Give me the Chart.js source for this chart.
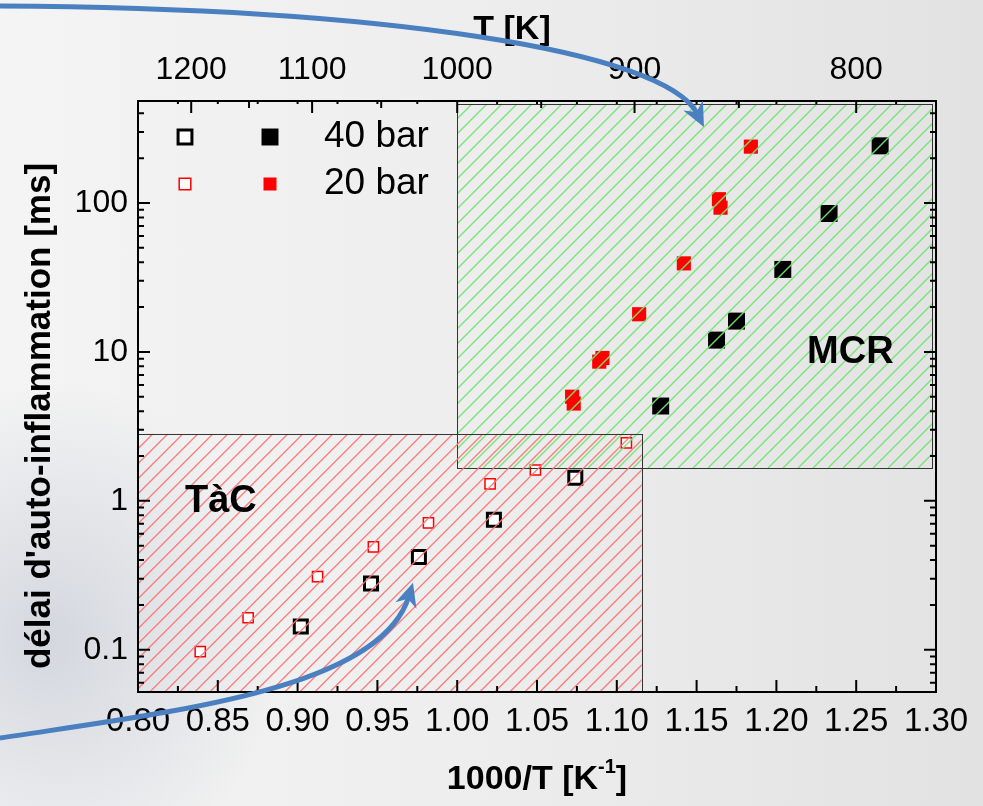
<!DOCTYPE html>
<html><head><meta charset="utf-8">
<script src="https://cdn.jsdelivr.net/npm/chart.js@4.4.1/dist/chart.umd.min.js"></script>
<style>
html,body{margin:0;padding:0;width:983px;height:806px;overflow:hidden;}
body{background:
 radial-gradient(ellipse 230px 260px at 50px 640px, rgba(185,192,205,0.55), rgba(185,192,205,0) 100%),
 linear-gradient(90deg,#f4f4f4 0%,#eeeeee 45%,#e2e2e2 100%);}
canvas{display:block}
</style></head><body>
<canvas id="c" width="983" height="806"></canvas>
<script>
// ---- data (x = 1000/T [1/K], y = ignition delay [ms]) ----
const xOpen40 = [0.902, 0.946, 0.976, 1.023, 1.074];
const yOpen40 = [0.143, 0.278, 0.42, 0.746, 1.43];
const xOpen20 = [0.839, 0.869, 0.9125, 0.9475, 0.982, 1.0206, 1.049, 1.106];
const yOpen20 = [0.097, 0.164, 0.31, 0.49, 0.71, 1.30, 1.61, 2.45];
const xFill40 = [1.1275, 1.1625, 1.175, 1.204, 1.233, 1.265];
const yFill40 = [4.33, 12.0, 16.1, 35.8, 85, 242];
const xFill20 = [1.072, 1.073, 1.089, 1.091, 1.114, 1.142, 1.164, 1.165, 1.184];
const yFill20 = [5.0, 4.5, 8.6, 9.1, 17.9, 39.3, 106, 93, 239];

// regions (axis units)
const tacX = [0.80, 1.1156], tacY = [0.052, 2.82];
const mcrX = [1.00, 1.2975], mcrY = [1.66, 463];
// region labels: [text, x, y(baseline)]
const tacLabel = ["TàC", 0.8294, 0.845];
const mcrLabel = ["MCR", 1.2192, 8.44];

// axis ticks / labels
const xMin = 0.80, xMax = 1.30, xStep = 0.05;
const yMin = 0.052, yMax = 484;
const yTickVals = [0.1, 1, 10, 100];
const yTickLabels = ["0.1", "1", "10", "100"];
const tempMajor = [1200, 1100, 1000, 900, 800];
const tempMinor = [1150, 1050, 950, 850];

// legend
const legendLabels = ["40 bar", "20 bar"];

// arrows (cubic Bezier control points in axis units)
const arrowTopX = [0.7135, 0.9516, 1.1302, 1.1546];
const arrowTopY = [2104, 2041, 1066, 324];
const arrowBotX = [0.7135, 0.82, 0.9516, 0.9723];
const arrowBotY = [0.0255, 0.0382, 0.0537, 0.282];

const FONT = "'Liberation Sans', Arial, Helvetica, sans-serif";
const pts = (xs, ys) => xs.map((x, i) => ({x, y: ys[i]}));

const extras = {
  id: 'extras',
  afterDatasetsDraw(chart) {
    const {ctx, chartArea: a, scales: {x, y}} = chart;
    const regions = [
      {xr: mcrX, yr: mcrY, hatch: 'rgba(115,228,115,0.95)'},
      {xr: tacX, yr: tacY, hatch: 'rgba(250,115,115,0.9)'}
    ];
    regions.forEach(r => {
      const x0 = x.getPixelForValue(r.xr[0]), x1 = x.getPixelForValue(r.xr[1]);
      const y0 = y.getPixelForValue(r.yr[1]), y1 = y.getPixelForValue(r.yr[0]);
      ctx.save();
      ctx.beginPath(); ctx.rect(x0, y0, x1 - x0, y1 - y0); ctx.clip();
      ctx.strokeStyle = r.hatch; ctx.lineWidth = 1.4;
      ctx.beginPath();
      for (let c = x0 + y0; c < x1 + y1; c += 15) {
        ctx.moveTo(c - y1, y1); ctx.lineTo(c - y0, y0);
      }
      ctx.stroke();
      ctx.restore();
      ctx.save();
      ctx.strokeStyle = '#333'; ctx.lineWidth = 1;
      ctx.strokeRect(Math.round(x0) + 0.5, Math.round(y0) + 0.5, Math.round(x1 - x0), Math.round(y1 - y0));
      ctx.restore();
    });
    // region labels
    ctx.save();
    ctx.fillStyle = '#000';
    ctx.font = "bold 38px " + FONT;
    ctx.textBaseline = 'alphabetic'; ctx.textAlign = 'left';
    [tacLabel, mcrLabel].forEach(l => ctx.fillText(l[0], x.getPixelForValue(l[1]), y.getPixelForValue(l[2])));
    ctx.restore();
  },
  afterDraw(chart) {
    const {ctx, chartArea: a, scales: {x, y, x2}} = chart;
    ctx.save();
    // frame
    ctx.strokeStyle = '#000'; ctx.lineWidth = 2;
    ctx.strokeRect(a.left, a.top, a.right - a.left, a.bottom - a.top);
    // ticks (inward)
    ctx.lineWidth = 2;
    ctx.beginPath();
    const nX = Math.round((xMax - xMin) / 0.025);
    for (let i = 0; i <= nX; i++) {
      const v = xMin + i * 0.025, px = x.getPixelForValue(v);
      const len = i % 2 === 0 ? 12 : 6;
      ctx.moveTo(px, a.bottom); ctx.lineTo(px, a.bottom - len);
      ctx.moveTo(px, a.top); ctx.lineTo(px, a.top + 3);
    }
    tempMajor.forEach(T => { const px = x2.getPixelForValue(1000 / T); ctx.moveTo(px, a.top); ctx.lineTo(px, a.top + 12); });
    tempMinor.forEach(T => { const px = x2.getPixelForValue(1000 / T); ctx.moveTo(px, a.top); ctx.lineTo(px, a.top + 7); });
    for (let d = -2; d <= 3; d++) {
      for (let m = 1; m <= 9; m++) {
        const v = m * Math.pow(10, d);
        if (v < yMin || v > yMax) continue;
        const py = y.getPixelForValue(v);
        const len = m === 1 ? 12 : 6;
        ctx.moveTo(a.left, py); ctx.lineTo(a.left + len, py);
        ctx.moveTo(a.right, py); ctx.lineTo(a.right - len, py);
      }
    }
    ctx.stroke();

    // legend
    const P = Chart.helpers.drawPoint;
    const lx1 = a.left + 47, lx2 = a.left + 132, lt = a.left + 186;
    const ly = [a.top + 36, a.top + 83];
    ctx.strokeStyle = '#000'; ctx.fillStyle = '#fff'; ctx.lineWidth = 3;
    P(ctx, {pointStyle: 'rect', radius: 9.8, borderWidth: 3}, lx1, ly[0]);
    ctx.fillStyle = '#000';
    P(ctx, {pointStyle: 'rect', radius: 12, borderWidth: 0}, lx2, ly[0]);
    ctx.strokeStyle = '#f00'; ctx.fillStyle = '#fff'; ctx.lineWidth = 1.5;
    P(ctx, {pointStyle: 'rect', radius: 8.2, borderWidth: 1.5}, lx1, ly[1]);
    ctx.fillStyle = '#f00';
    P(ctx, {pointStyle: 'rect', radius: 9.2, borderWidth: 0}, lx2, ly[1]);
    ctx.fillStyle = '#000';
    ctx.font = "37px " + FONT; ctx.textBaseline = 'middle'; ctx.textAlign = 'left';
    legendLabels.forEach((t, i) => ctx.fillText(t, lt, ly[i]));

    // axis titles
    ctx.font = "bold 34px " + FONT; ctx.textAlign = 'center'; ctx.textBaseline = 'alphabetic';
    ctx.fillText("T [K]", 512, 39);
    const s1 = "1000/T [K", s2 = "-1", s3 = "]";
    ctx.font = "bold 34px " + FONT; const w1 = ctx.measureText(s1).width, w3 = ctx.measureText(s3).width;
    ctx.font = "bold 20px " + FONT; const w2 = ctx.measureText(s2).width;
    let bx = (a.left + a.right) / 2 - (w1 + w2 + w3) / 2; const by = 789;
    ctx.textAlign = 'left';
    ctx.font = "bold 34px " + FONT; ctx.fillText(s1, bx, by); bx += w1;
    ctx.font = "bold 20px " + FONT; ctx.fillText(s2, bx, by - 16); bx += w2;
    ctx.font = "bold 34px " + FONT; ctx.fillText(s3, bx, by);
    ctx.save();
    ctx.translate(50, 416); ctx.rotate(-Math.PI / 2);
    ctx.font = "bold 35px " + FONT; ctx.textAlign = 'center'; ctx.textBaseline = 'alphabetic';
    ctx.fillText("délai d'auto-inflammation [ms]", 0, 0);
    ctx.restore();

    // arrows
    const drawArrow = (xs, ys) => {
      const p = xs.map((v, i) => [x.getPixelForValue(v), y.getPixelForValue(ys[i])]);
      const dx = p[3][0] - p[2][0], dy = p[3][1] - p[2][1], L = Math.hypot(dx, dy);
      const ux = dx / L, uy = dy / L;
      const hl = 24, hw = 11;
      ctx.strokeStyle = '#4a7fc0'; ctx.fillStyle = '#4a7fc0'; ctx.lineWidth = 5; ctx.lineCap = 'butt';
      ctx.beginPath();
      ctx.moveTo(p[0][0], p[0][1]);
      ctx.bezierCurveTo(p[1][0], p[1][1], p[2][0], p[2][1], p[3][0] - ux * hl * 0.6, p[3][1] - uy * hl * 0.6);
      ctx.stroke();
      const bxp = p[3][0] - ux * hl, byp = p[3][1] - uy * hl;
      ctx.beginPath();
      ctx.moveTo(p[3][0], p[3][1]);
      ctx.lineTo(bxp - uy * hw, byp + ux * hw);
      ctx.lineTo(p[3][0] - ux * hl * 0.7, p[3][1] - uy * hl * 0.7);
      ctx.lineTo(bxp + uy * hw, byp - ux * hw);
      ctx.closePath(); ctx.fill();
    };
    drawArrow(arrowTopX, arrowTopY);
    drawArrow(arrowBotX, arrowBotY);
    ctx.restore();
  }
};

new Chart(document.getElementById('c'), {
  type: 'scatter',
  data: {
    datasets: [
      {label: '40 bar (TàC)', data: pts(xOpen40, yOpen40), pointStyle: 'rect', pointRadius: 9.2, borderWidth: 3, borderColor: '#000', backgroundColor: '#fff'},
      {label: '20 bar (TàC)', data: pts(xOpen20, yOpen20), pointStyle: 'rect', pointRadius: 7.2, borderWidth: 1.5, borderColor: '#f00', backgroundColor: '#fff'},
      {label: '40 bar (MCR)', data: pts(xFill40, yFill40), pointStyle: 'rect', pointRadius: 12, borderWidth: 0, borderColor: '#000', backgroundColor: '#000'},
      {label: '20 bar (MCR)', data: pts(xFill20, yFill20), pointStyle: 'rect', pointRadius: 10, borderWidth: 0, borderColor: '#f00', backgroundColor: '#f00'}
    ]
  },
  options: {
    responsive: false, animation: false, devicePixelRatio: 1,
    layout: {padding: {left: 0, right: 47, top: 0, bottom: 0}},
    plugins: {legend: {display: false}, tooltip: {enabled: false}},
    scales: {
      x: {
        type: 'linear', position: 'bottom', min: xMin, max: xMax,
        grid: {display: false, drawTicks: false}, border: {display: false},
        ticks: {stepSize: xStep, autoSkip: false, maxRotation: 0, padding: 10, color: '#000',
          font: {family: FONT, size: 33}, callback: v => Number(v).toFixed(2)},
        afterFit: s => { s.height = 114; }
      },
      x2: {
        type: 'linear', position: 'top', min: xMin, max: xMax,
        grid: {display: false, drawTicks: false}, border: {display: false},
        afterBuildTicks: s => { s.ticks = tempMajor.map(T => ({value: 1000 / T})); },
        ticks: {autoSkip: false, maxRotation: 0, padding: 12, color: '#000',
          font: {family: FONT, size: 32}, callback: v => String(Math.round(1000 / v))},
        afterFit: s => { s.height = 101; }
      },
      y: {
        type: 'logarithmic', position: 'left', min: yMin, max: yMax,
        grid: {display: false, drawTicks: false}, border: {display: false},
        afterBuildTicks: s => { s.ticks = yTickVals.map(v => ({value: v})); },
        ticks: {autoSkip: false, padding: 10, color: '#000',
          font: {family: FONT, size: 32}, callback: (v, i) => yTickLabels[i]},
        afterFit: s => { s.width = 138; }
      }
    }
  },
  plugins: [extras]
});
</script>
</body></html>
